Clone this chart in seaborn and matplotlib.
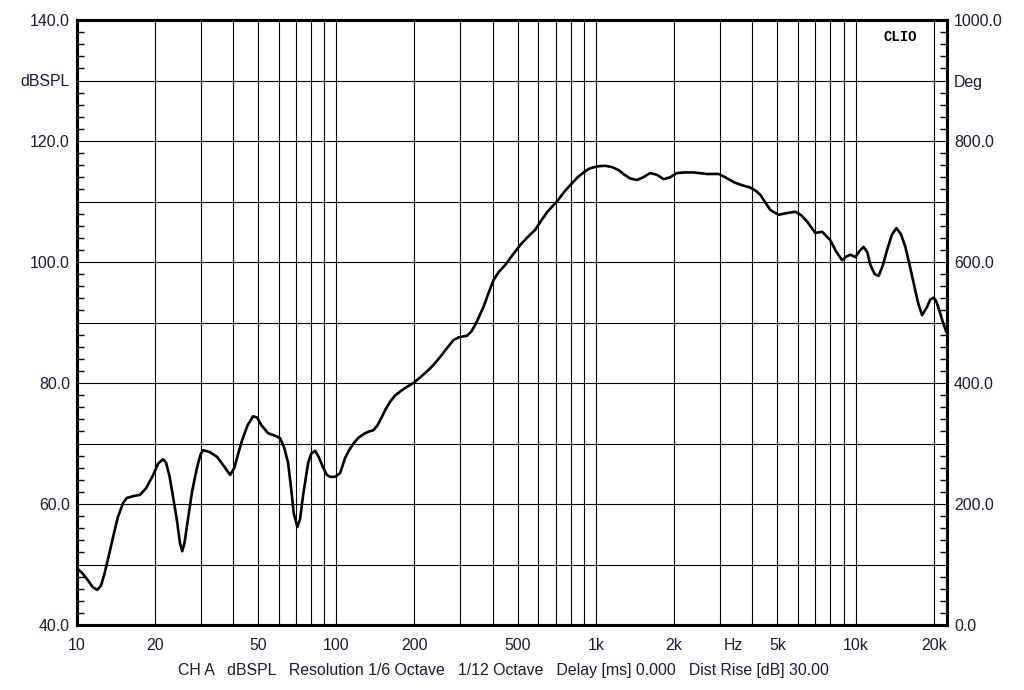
import matplotlib
matplotlib.use("Agg")
import matplotlib.pyplot as plt
import numpy as np
import pandas as pd
import seaborn as sns
from matplotlib.ticker import FixedLocator, NullLocator

# frequency response (Hz, dBSPL)
freq = [10, 10.5, 11, 11.5, 12, 12.4, 12.8, 13.3, 13.8, 14.4, 15.1, 15.6, 16.5,
        17.5, 18.5, 19.7, 20.6, 21.5, 22.1, 22.8, 23.5, 24.4, 25.0, 25.5, 26.0,
        26.8, 27.8, 29.1, 30.0, 30.7, 32.5, 34.7, 37, 39.0, 40.5, 42, 43.4, 45.5,
        47.8, 49.5, 51.5, 54.6, 58, 60.7, 63, 65.2, 67, 68.5, 70.8, 72.5, 74.5,
        77.9, 80, 82.8, 85.5, 89, 92, 94.6, 99, 103.4, 108.1, 112, 116.4, 122,
        129.1, 134, 139, 144, 149.8, 155, 161.2, 168, 176.2, 186, 198.2, 210,
        223.3, 237, 251.2, 266, 282.7, 298, 318.4, 331, 342.7, 355, 369, 386,
        403, 423, 447, 478, 511, 545, 583, 610, 650, 707.5, 755, 808, 850, 896,
        940, 979, 1030, 1086, 1150, 1222, 1290, 1356, 1439, 1520, 1619, 1720,
        1822, 1930, 2051, 2200, 2377, 2677, 2968, 3150, 3391, 3650, 3932, 4120,
        4296, 4500, 4695, 5052, 5450, 5861, 6150, 6501, 6998, 7430, 7996, 8400,
        8873, 9200, 9553, 9982, 10350, 10745, 11100, 11404, 11850, 12274, 12750,
        13225, 13800, 14356, 14950, 15556, 16150, 16749, 17400, 18035, 18860,
        19400, 19994, 20450, 20908, 21600, 22330]
spl = [49.4, 48.6, 47.5, 46.3, 45.8, 46.5, 48.5, 51.5, 54.5, 57.8, 60.2, 61.0, 61.3,
       61.5, 62.6, 64.8, 66.7, 67.4, 66.8, 64.5, 61.2, 56.9, 53.5, 52.2, 53.5,
       57.4, 62.0, 66.1, 68.2, 68.9, 68.6, 67.8, 66.2, 64.8, 66.0, 68.5, 70.6, 73.0,
       74.5, 74.3, 73.0, 71.7, 71.3, 70.9, 69.3, 66.8, 62.5, 58.5, 56.2, 57.5, 61.5,
       66.8, 68.3, 68.8, 67.8, 66.0, 64.8, 64.5, 64.5, 65.1, 67.6, 68.9, 70.0, 71.0,
       71.7, 72.0, 72.2, 73.0, 74.4, 75.7, 76.9, 77.9, 78.6, 79.3, 80.0, 80.9,
       81.9, 83.0, 84.3, 85.7, 87.1, 87.6, 87.8, 88.5, 89.6, 91.0, 92.6, 94.9,
       97.0, 98.4, 99.5, 101.2, 102.8, 104.1, 105.3, 106.6, 108.3, 110.0, 111.6, 113.0, 114.0, 114.8,
       115.4, 115.65, 115.85, 115.9, 115.7, 115.2, 114.4, 113.8, 113.55, 114.0, 114.7, 114.4,
       113.7, 114.0, 114.7, 114.8, 114.8, 114.55, 114.55, 114.0, 113.2, 112.7, 112.3, 111.8,
       111.1, 109.8, 108.6, 107.8, 108.1, 108.3, 107.8, 106.7, 104.8, 105.0, 103.6, 101.8,
       100.3, 100.9, 101.2, 100.8, 101.8, 102.5, 101.6, 99.5, 98.0, 97.7, 99.5,
       102.0, 104.5, 105.6, 104.6, 102.5, 99.5, 96.5, 93.3, 91.2, 92.6,
       93.8, 94.1, 93.5, 92.3, 90.3, 88.5]

x_grid = [m * 10 ** d for d in range(1, 5) for m in range(1, 10)]
x_labeled = {10: "10", 20: "20", 50: "50", 100: "100", 200: "200", 500: "500",
             1000: "1k", 2000: "2k", 5000: "5k", 10000: "10k", 20000: "20k"}
left_ticks = list(range(40, 141, 10))
left_labels = {140: "140.0", 130: "dBSPL", 120: "120.0", 100: "100.0",
               80: "80.0", 60: "60.0", 40: "40.0"}
right_ticks = list(range(0, 1001, 100))
right_labels = {1000: "1000.0", 900: "Deg", 800: "800.0", 600: "600.0",
                400: "400.0", 200: "200.0", 0: "0.0"}

footer = ("CH A   dBSPL   Resolution 1/6 Octave   1/12 Octave   "
          "Delay [ms] 0.000   Dist Rise [dB] 30.00")

sns.set_theme(style="white")
plt.rcParams["font.family"] = ["Liberation Sans", "DejaVu Sans"]
txt = "#1c1c2c"
fs = 11.4

fig = plt.figure(figsize=(10.24, 6.9), dpi=100)
ax = fig.add_axes([76.7 / 1024, 1 - 625 / 690, (947 - 76.7) / 1024, 605 / 690])

df = pd.DataFrame({"freq": freq, "spl": spl})
sns.lineplot(data=df, x="freq", y="spl", ax=ax, color="black", lw=1.9,
             estimator=None, zorder=3, solid_joinstyle="round")

ax.set_xscale("log")
ax.set_xlim(10, 22500)
ax.set_ylim(40, 140)
ax.set_xlabel("")
ax.set_ylabel("")

ax.xaxis.set_major_locator(FixedLocator(x_grid))
ax.xaxis.set_minor_locator(NullLocator())
ax.set_xticklabels([x_labeled.get(round(v), "") for v in x_grid])
ax.set_yticks(left_ticks)
ax.set_yticklabels([left_labels.get(v, "") for v in left_ticks])
ax.yaxis.set_minor_locator(FixedLocator(np.arange(40, 141, 2)))
ax.grid(True, which="major", color="black", lw=0.8)
ax.tick_params(axis="x", length=0, pad=9, labelsize=fs, labelcolor=txt)
ax.tick_params(axis="y", which="major", length=0, pad=5, labelsize=fs, labelcolor=txt)
ax.tick_params(axis="y", which="minor", direction="in", length=5, width=1,
               color="black", left=True)

ax2 = ax.twinx()
ax2.set_ylim(0, 1000)
ax2.set_yticks(right_ticks)
ax2.set_yticklabels([right_labels.get(v, "") for v in right_ticks])
ax2.yaxis.set_minor_locator(FixedLocator(np.arange(0, 1001, 20)))
ax2.grid(False)
ax2.tick_params(axis="y", which="major", length=0, pad=5, labelsize=fs, labelcolor=txt)
ax2.tick_params(axis="y", which="minor", direction="in", length=5, width=1,
                color="black", right=True)

for a in (ax, ax2):
    for s in a.spines.values():
        s.set_visible(True)
        s.set_color("black")
        s.set_linewidth(2.2)
        s.set_zorder(5)

ax.text(0.965, 0.983, "CLIO", transform=ax.transAxes, ha="right", va="top",
        fontsize=10, fontweight="bold", family=["Liberation Mono", "DejaVu Sans Mono"],
        color="black")
fig.text(733 / 1024, 1 - 645 / 690, "Hz", ha="center", va="center",
         fontsize=fs, color=txt)
fig.text(503 / 1024, 1 - 671 / 690, footer, ha="center", va="center",
         fontsize=fs, color=txt)

fig.savefig("out.png", dpi=100)
plt.close(fig)
